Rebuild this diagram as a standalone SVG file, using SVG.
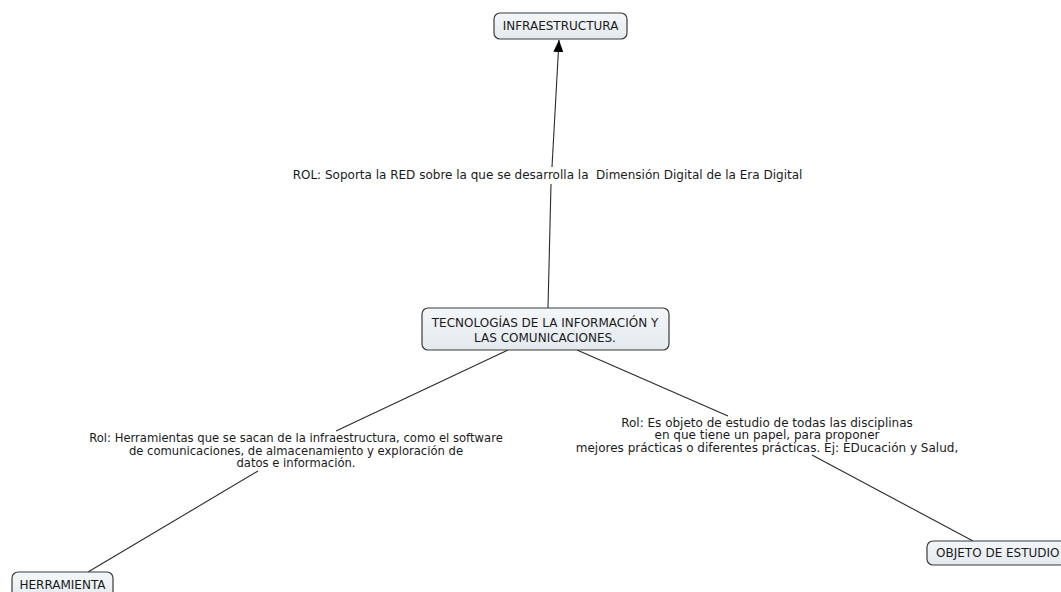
<svg xmlns="http://www.w3.org/2000/svg" width="1061" height="592" viewBox="0 0 1061 592">
<defs>
<linearGradient id="g" x1="0" y1="0" x2="0" y2="1">
<stop offset="0" stop-color="#f4f7f9"/>
<stop offset="1" stop-color="#e3e9ee"/>
</linearGradient>
<marker id="arr" viewBox="0 0 12 10" refX="12" refY="5" markerWidth="12" markerHeight="10" markerUnits="userSpaceOnUse" orient="auto">
<path d="M0,0 L12,5 L0,10 z" fill="#000"/>
</marker>
<style>
.box{fill:url(#g);stroke:#3a3a3a;stroke-width:1.2}
.t{font-family:"DejaVu Sans",Verdana,sans-serif;font-size:12px;fill:#1a1a1a;text-anchor:middle;white-space:pre}
.l{font-size:11.6px}
.c{stroke:#2a2a2a;stroke-width:1.1;fill:none}
</style>
</defs>
<rect width="1061" height="592" fill="#fff"/>
<g id="connectors">
<line class="c" x1="548" y1="308" x2="551" y2="184"/>
<line class="c" x1="552" y1="167" x2="559" y2="40" marker-end="url(#arr)"/>
<line class="c" x1="508" y1="350" x2="336" y2="431"/>
<line class="c" x1="258" y1="471" x2="88" y2="572"/>
<line class="c" x1="577" y1="350" x2="728" y2="416"/>
<line class="c" x1="812" y1="455" x2="973" y2="541"/>
</g>
<g id="label-top"><text class="t" x="547.5" y="179" xml:space="preserve">ROL: Soporta la RED sobre la que se desarrolla la  Dimensión Digital de la Era Digital</text></g>
<g id="label-left">
<text class="t l" x="296" y="442">Rol: Herramientas que se sacan de la infraestructura, como el software</text>
<text class="t l" x="296" y="454.5">de comunicaciones, de almacenamiento y exploración de</text>
<text class="t l" x="296" y="467">datos e información.</text>
</g>
<g id="label-right">
<text class="t" x="767" y="426.5">Rol: Es objeto de estudio de todas las disciplinas</text>
<text class="t" x="767" y="439">en que tiene un papel, para proponer</text>
<text class="t" x="767" y="451.5">mejores prácticas o diferentes prácticas. Ej: EDucación y Salud,</text>
</g>
<g id="node-infraestructura">
<rect class="box" x="494" y="13" width="133" height="26" rx="6"/>
<text class="t" x="560.5" y="30">INFRAESTRUCTURA</text>
</g>
<g id="node-tic">
<rect class="box" x="422" y="308" width="247" height="42" rx="6"/>
<text class="t" x="545" y="327">TECNOLOGÍAS DE LA INFORMACIÓN Y</text>
<text class="t" x="545" y="342">LAS COMUNICACIONES.</text>
</g>
<g id="node-herramienta">
<rect class="box" x="12" y="572" width="101" height="30" rx="6"/>
<text class="t" x="62.5" y="589">HERRAMIENTA</text>
</g>
<g id="node-objeto">
<rect class="box" x="927" y="541" width="150" height="24" rx="6"/>
<text class="t" x="936" y="557" style="text-anchor:start">OBJETO DE ESTUDIO</text>
</g>
</svg>
